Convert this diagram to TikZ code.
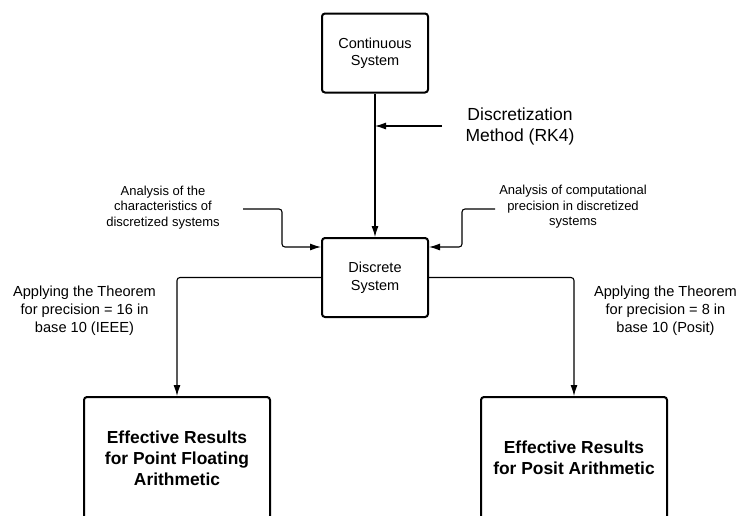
\documentclass[tikz,border=0pt]{standalone}
\usepackage{fontspec}
\setmainfont{Liberation Sans}
\usetikzlibrary{arrows.meta}

\begin{document}
\begin{tikzpicture}[x=1pt,y=-1pt]

\def\midx{375}
\def\leftx{177}
\def\rightx{574}

\tikzstyle{system}=[rectangle,draw,line width=2pt,rounded corners=3pt,minimum width=106pt,minimum height=79pt,align=center,font=\fontsize{14.5}{17.5}\selectfont]
\tikzstyle{result}=[system,minimum width=186pt,minimum height=122pt,font=\bfseries\fontsize{17.4}{21}\selectfont]
\tikzstyle{note}=[align=center,font=\fontsize{13}{15.5}\selectfont]
\tikzstyle{theorem}=[align=center,font=\fontsize{14.6}{18}\selectfont]
\tikzstyle{flow}=[line width=1.1pt,rounded corners=3pt,-{Latex[length=11pt,width=7pt]}]

\useasboundingbox (0,0) rectangle (740,515);
\clip (0,0) rectangle (740,515);

%systems
\node[system] (cont) at (\midx,53) {Continuous\\System};
\node[system] (disc) at (\midx,277.5) {Discrete\\System};

%discretization
\node[align=center,font=\fontsize{17.5}{21}\selectfont] (method) at (520,126.5) {Discretization\\Method (RK4)};
\coordinate (mstart) at (442,126);
\draw[flow] (cont) -- (disc);
\draw[flow] (mstart) -- (mstart -| cont.south);

%analysis
\node[note] (charlabel) at (163,207.5) {Analysis of the\\characteristics of\\discretized systems};
\node[note] (preclabel) at (573,207) {Analysis of computational\\precision in discretized\\systems};
\coordinate (cstart) at (243,209);
\coordinate (cbend) at (282,247);
\coordinate (pstart) at (495,209);
\coordinate (pbend) at (462,247);
\draw[flow] (cstart) -| (cbend) -- (cbend -| disc.west);
\draw[flow] (pstart) -| (pbend) -- (pbend -| disc.east);

%results
\node[theorem] (thleft) at (84.5,311) {Applying the Theorem\\for precision = 16 in\\base 10 (IEEE)};
\node[theorem] (thright) at (665.5,311) {Applying the Theorem\\for precision = 8 in\\base 10 (Posit)};
\node[result] (resfloat) at (\leftx,458) {Effective Results\\for Point Floating\\Arithmetic};
\node[result] (resposit) at (\rightx,458) {Effective Results\\for Posit Arithmetic};
\draw[flow] (disc.west) -| (resfloat.north);
\draw[flow] (disc.east) -| (resposit.north);

\end{tikzpicture}
\end{document}
